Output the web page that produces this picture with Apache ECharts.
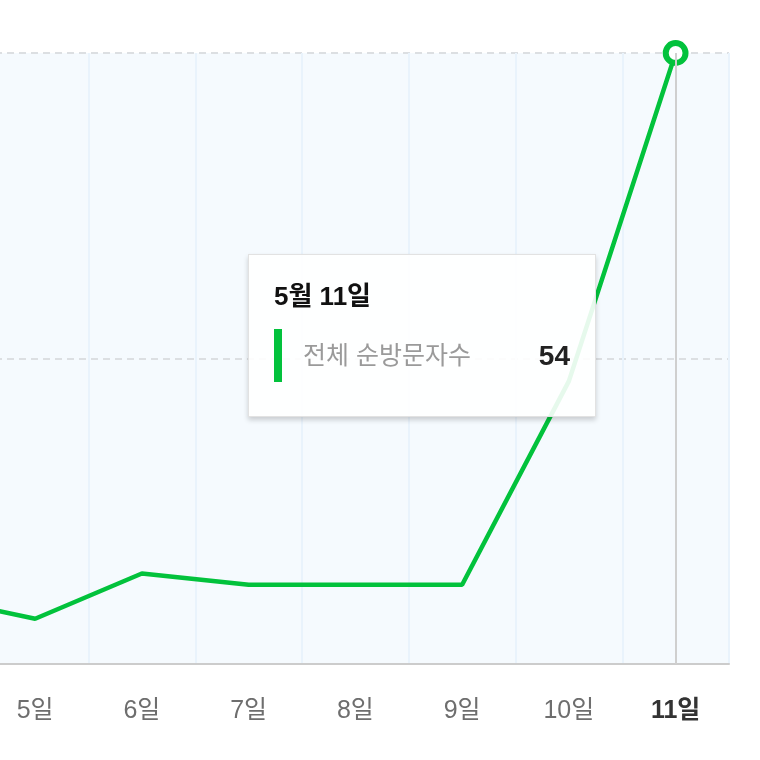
<!DOCTYPE html>
<html lang="ko">
<head>
<meta charset="utf-8">
<title>전체 순방문자수</title>
<script src="https://cdn.jsdelivr.net/npm/echarts@6/dist/echarts.min.js"></script>
<style>
	html, body { margin: 0; padding: 0; background: #fff; overflow: hidden; width: 760px; height: 760px; position: relative; }
	/* the plot starts left of the visible window, so the box is shifted left */
	#chart { position: absolute; left: -125px; top: 0; width: 885px; height: 760px; }
</style>
</head>
<body>
<div id="chart"></div>
<script>
// Data
var days = ['4일', '5일', '6일', '7일', '8일', '9일', '10일', '11일'];
var dayTitles = ['5월 4일', '5월 5일', '5월 6일', '5월 7일', '5월 8일', '5월 9일', '5월 10일', '5월 11일'];
var visitors = [6, 4, 8, 7, 7, 7, 25, 54];
var seriesName = '전체 순방문자수';
var yTicks = [0, 27, 54];
// Sonstiges
var chart;
var selected = days.length - 1;	// highlighted day (11일)
var green = '#02c23c';
var font = '"Liberation Sans", Arial, "Noto Sans CJK KR", sans-serif';
var shift = 125;	// px hidden on the left

function TooltipHtml(i) {	// Builds the tooltip box for day i
	let html = '<div style="width:296px;height:139px;padding:22px 25px 0 25px;font-family:' + font.replace(/"/g, "'") + '">';
	html += '<div style="font-size:26px;font-weight:bold;color:#111;line-height:38px">' + dayTitles[i] + '</div>';
	html += '<div style="display:flex;align-items:center;margin-top:14px;height:53px">';
	html += '<span style="width:8px;height:53px;background:' + green + ';display:inline-block"></span>';
	html += '<span style="flex:1;margin-left:21px;font-size:25px;color:#9a9a9a">' + seriesName + '</span>';
	html += '<span style="font-size:28px;font-weight:bold;color:#222">' + visitors[i] + '</span>';
	html += '</div></div>';
	return html;
}

function RenderChart() {	// Line chart
	chart = echarts.init(document.getElementById('chart'), '', {
		renderer: 'canvas'
	});
	let xData = [];
	for (let i = 0; i < days.length; i++) {
		xData[i] = {
			value: days[i],
			textStyle: i == selected ? { color: '#333', fontWeight: 'bold' } : {}
		};
	}
	let points = [];
	for (let i = 0; i < visitors.length; i++) {
		points[i] = {
			value: visitors[i],
			symbol: i == selected ? 'circle' : 'none'
		};
	}

	chart.setOption({
		animation: false,
		grid: {
			left: 0,
			right: 31,
			top: 53,
			bottom: 96,
			show: true,
			backgroundColor: '#f5fafe',
			borderWidth: 0
		},
		tooltip: {
			trigger: 'axis',
			alwaysShowContent: true,
			position: [248 + shift, 254],
			padding: 0,
			borderWidth: 1,
			borderColor: '#e2e2e2',
			borderRadius: 0,
			backgroundColor: 'rgba(255,255,255,0.9)',
			extraCssText: 'box-shadow:0 3px 5px rgba(0,0,0,0.18);',
			transitionDuration: 0,
			axisPointer: {
				type: 'line',
				lineStyle: { color: '#cfcfcf', width: 2, type: 'solid' },
				label: { show: false }
			},
			formatter: function(params) {
				return TooltipHtml(params[0].dataIndex);
			}
		},
		xAxis: {
			type: 'category',
			boundaryGap: true,
			data: xData,
			axisLine: { lineStyle: { color: '#cccccc', width: 2 } },
			axisTick: { show: false },
			axisLabel: {
				color: '#6e6e6e',
				fontSize: 25,
				fontFamily: font,
				margin: 35
			},
			splitLine: {
				show: true,
				lineStyle: { color: '#e9f3fc', width: 2 }
			}
		},
		yAxis: {
			type: 'value',
			min: yTicks[0],
			max: yTicks[yTicks.length - 1],
			interval: yTicks[1] - yTicks[0],
			axisLine: { show: false },
			axisTick: { show: false },
			axisLabel: { show: false },
			splitLine: {
				lineStyle: { color: '#dcdfe2', width: 2, type: [7, 5] }
			}
		},
		series: [{
			name: seriesName,
			type: 'line',
			data: points,
			symbolSize: 18,
			showAllSymbol: true,
			lineStyle: { color: green, width: 4.5 },
			itemStyle: { color: '#fff', borderColor: green, borderWidth: 6 },
			emphasis: { disabled: true }
		}]
	});
	chart.dispatchAction({
		type: 'showTip',
		seriesIndex: 0,
		dataIndex: selected
	});
}

RenderChart();	// Executed on load
</script>
</body>
</html>
